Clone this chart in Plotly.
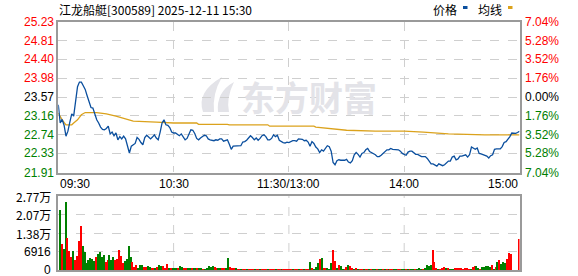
import plotly.graph_objects as go

# ---------------- data ----------------
title_text = "江龙船艇[300589] 2025-12-11 15:30"
prev_close = 23.57

time_ticks = [0, 60, 120, 180, 240]
time_labels = ["09:30", "10:30", "11:30/13:00", "14:00", "15:00"]

price_ticks = [25.23, 24.81, 24.40, 23.98, 23.57, 23.16, 22.74, 22.33, 21.91]
pct_labels = ["7.04%", "5.28%", "3.52%", "1.76%", "0.00%", "1.76%", "3.52%", "5.28%", "7.04%"]

vol_ticks = [0, 6916, 13832, 20748, 27664]
vol_labels = ["0", "6916", "1.38万", "2.07万", "2.77万"]

price = [
    23.40, 23.00, 23.08, 22.95, 22.71, 22.82, 23.02, 23.20, 23.15, 23.55,
    23.80, 23.90, 23.90, 23.82, 23.74, 23.60, 23.46, 23.34, 23.33, 23.18,
    23.07, 23.00, 22.91, 22.86, 22.85, 22.88, 22.93, 22.76, 22.80, 22.72,
    22.78, 22.63, 22.70, 22.65, 22.71, 22.65, 22.47, 22.34, 22.49, 22.52,
    22.55, 22.68, 22.64, 22.57, 22.52, 22.68, 22.73, 22.69, 22.65, 22.69,
    22.74, 22.67, 22.63, 22.80, 23.00, 23.07, 22.96, 22.95, 22.90, 22.80,
    22.78, 22.78, 22.74, 22.72, 22.76, 22.68, 22.63, 22.66, 22.74, 22.85,
    22.84, 22.77, 22.66, 22.63, 22.67, 22.71, 22.73, 22.72, 22.65, 22.63,
    22.62, 22.61, 22.63, 22.62, 22.65, 22.65, 22.60, 22.61, 22.63, 22.53,
    22.42, 22.49, 22.49, 22.49, 22.49, 22.50, 22.58, 22.59, 22.62, 22.66,
    22.72, 22.68, 22.63, 22.67, 22.62, 22.66, 22.72, 22.74, 22.70, 22.63,
    22.63, 22.66, 22.74, 22.70, 22.73, 22.62, 22.59, 22.57, 22.56, 22.58,
    22.57, 22.60, 22.61, 22.61, 22.60, 22.65, 22.64, 22.64, 22.61, 22.62,
    22.58, 22.49, 22.59, 22.55, 22.47, 22.43, 22.35, 22.41, 22.38, 22.43,
    22.50, 22.48, 22.38, 22.13, 22.08, 22.17, 22.19, 22.18, 22.18, 22.18,
    22.20, 22.14, 22.12, 22.17, 22.30, 22.35, 22.31, 22.25, 22.33, 22.35,
    22.41, 22.44, 22.37, 22.35, 22.33, 22.30, 22.26, 22.26, 22.29, 22.33,
    22.38, 22.41, 22.41, 22.44, 22.42, 22.42, 22.41, 22.41, 22.38, 22.33,
    22.31, 22.29, 22.36, 22.38, 22.38, 22.34, 22.31, 22.31, 22.29, 22.26,
    22.26, 22.26, 22.22, 22.17, 22.10, 22.10, 22.07, 22.05, 22.10, 22.08,
    22.06, 22.08, 22.12, 22.16, 22.16, 22.25, 22.27, 22.19, 22.21, 22.27,
    22.27, 22.28, 22.30, 22.25, 22.30, 22.47, 22.45, 22.42, 22.45, 22.33,
    22.32, 22.30, 22.28, 22.27, 22.23, 22.28, 22.30, 22.42, 22.43, 22.43,
    22.43, 22.48, 22.57, 22.59, 22.64, 22.70, 22.78, 22.77, 22.77, 22.79,
    22.82,
]

avg_minutes = [0, 2, 4, 7, 8, 10, 12, 14, 20, 25, 30, 35, 39, 51, 60, 72, 73, 88, 89,
               109, 110, 120, 133, 134, 140, 144, 150, 165, 180, 190, 195, 203, 222, 240]
avg_price = [23.22, 23.07, 22.96, 22.96, 23.00, 23.07, 23.18, 23.23, 23.23, 23.20,
             23.15, 23.09, 23.04, 23.02, 23.00, 23.00, 22.97, 22.97, 22.96, 22.96,
             22.93, 22.93, 22.93, 22.91, 22.88, 22.87, 22.84, 22.82, 22.82, 22.80,
             22.78, 22.76, 22.74, 22.74]

volume = [
    22400, 9700, 7850, 25400, 11850, 7200, 4750, 7100, 3740, 5240,
    10850, 16460, 8980, 6850, 2730, 3740, 4490, 4110, 3370, 4750,
    5980, 6850, 4750, 5500, 3100, 3740, 5500, 3740, 4750, 3740,
    4110, 7480, 5240, 2730, 3370, 4110, 8980, 4990, 3100, 1250,
    1870, 620, 1870, 1870, 1250, 1000, 1500, 1000, 620, 620,
    620, 1250, 1870, 1500, 1500, 620, 2240, 620, 400, 400,
    620, 400, 750, 1500, 1250, 750, 400, 400, 400, 400,
    620, 400, 400, 400, 400, 300, 300, 620, 1500, 1000,
    1500, 1000, 400, 400, 400, 400, 400, 750, 4370, 1000,
    400, 400, 400, 300, 300, 300, 300, 300, 300, 300,
    300, 300, 300, 300, 300, 300, 300, 300, 300, 300,
    300, 300, 300, 300, 300, 300, 300, 300, 300, 370,
    370, 370, 370, 370, 370, 370, 370, 370, 370, 370,
    370, 2990, 870, 370, 1000, 2620, 4110, 4490, 620, 870,
    870, 370, 2740, 7480, 3490, 870, 1870, 1500, 370, 370,
    1000, 1870, 1500, 620, 370, 750, 370, 370, 370, 370,
    370, 370, 370, 370, 370, 370, 370, 370, 370, 370,
    370, 370, 370, 370, 370, 370, 370, 370, 370, 370,
    370, 370, 370, 370, 370, 370, 370, 370, 620, 370,
    370, 870, 1870, 1500, 1870, 7480, 3100, 870, 370, 370,
    620, 1000, 620, 870, 370, 370, 370, 620, 870, 870,
    620, 370, 870, 870, 370, 370, 1000, 1500, 1500, 870,
    370, 1000, 1250, 1500, 1600, 1250, 1870, 370, 1000, 3000,
    3740, 2240, 3100, 2740, 4110, 6360, 5980, 0, 0, 0,
    11600,
]

vol_dir = list(
    "GRGGRRRGRR" "RRGGGGGGGR" "GGGGRRGGGR" "RRRRGGGGRR"
    "RGGGRRGGRR" "GRGGRRRGRG" "GGRGGRRGGR" "GGRGGRGGGG"
    "GRRGGRRGGR" "RRGRRGRRGR" "RRGRRGRRRG" "RRRGRRGRRR"
    "RRGRRGRRGR" "RGRGGGRGRR" "GGGRRGRGGR" "RGRRGRGRRG"
    "RRGRGGRGGR" "GRGRRGGRRG" "GRGRGGRGGG" "RGGGGRRRGR"
    "RRGRGGGRRR" "RRRRRGRRGG" "RGGGGGRGRG" "RGGGRRRRRR"
    "R"
)

minutes = list(range(len(price)))

# ---------------- geometry helpers ----------------
W, H = 578, 276
X0, X1 = 58.3, 519.5
def px(x):
    return x / W
def py(y):
    return 1 - y / H

RED = "#ff0000"
GREEN = "#008000"
BLACK = "#000000"
GRID = "#cfcfcf"
BORDER = "#9a9a9a"
FONT = "Liberation Sans, Arial, sans-serif"
CJK = "Noto Sans CJK SC, sans-serif"

fig = go.Figure()

fig.add_trace(go.Scatter(x=avg_minutes, y=avg_price, mode="lines",
                         line=dict(color="#dba21c", width=1.3),
                         xaxis="x", yaxis="y", hoverinfo="skip"))
fig.add_trace(go.Scatter(x=minutes, y=price, mode="lines",
                         line=dict(color="#0b4f9e", width=1.3),
                         xaxis="x", yaxis="y", hoverinfo="skip"))

bar_colors = [RED if d == "R" else GREEN for d in vol_dir]
fig.add_trace(go.Bar(x=minutes, y=volume, marker=dict(color=bar_colors, line=dict(width=0)),
                     width=0.65, xaxis="x2", yaxis="y2", hoverinfo="skip"))

axis_common = dict(showline=True, mirror=True, linecolor=BORDER, linewidth=1.5,
                   zeroline=False, showticklabels=False, ticks="",
                   gridcolor=GRID, griddash="dash", gridwidth=1)

fig.update_layout(
    width=W, height=H,
    margin=dict(l=0, r=0, t=0, b=0),
    paper_bgcolor="white", plot_bgcolor="white",
    showlegend=False,
    bargap=0,
    xaxis=dict(domain=[px(X0), px(X1)], range=[0, 240], tickvals=[60, 120, 180],
               showgrid=True, anchor="y", **axis_common),
    yaxis=dict(domain=[py(172.5), py(21.7)], range=[21.91, 25.23], tickvals=price_ticks,
               showgrid=True, anchor="x", **axis_common),
    xaxis2=dict(domain=[px(X0), px(X1)], range=[-1, 240.3], showgrid=False,
                anchor="y2", **axis_common),
    yaxis2=dict(domain=[py(270), py(196)], range=[0, 27664], tickvals=vol_ticks,
                showgrid=True, anchor="x2", **axis_common),
)

shapes = []
# vertical grid lines in volume pane aligned with price axis
for t in time_ticks[1:-1]:
    shapes.append(dict(type="line", xref="x", x0=t, x1=t, yref="y2 domain", y0=0, y1=1,
                       line=dict(color=GRID, width=1, dash="dash"), layer="below"))

# watermark leaf logo (decoration)
def P(x, y):
    return f"{px(x):.5f},{py(y):.5f}"
leaf = ("M " + P(203, 112) + " Q " + P(196, 92) + " " + P(222, 77) +
        " Q " + P(212, 94) + " " + P(214, 112) + " Z")
leaf2 = ("M " + P(218, 112) + " Q " + P(216, 92) + " " + P(234, 82) +
         " Q " + P(226, 98) + " " + P(229, 112) + " Z")
for pth in (leaf, leaf2):
    shapes.append(dict(type="path", xref="paper", yref="paper", path=pth,
                       fillcolor="#e3e3e8", line=dict(width=0), layer="below"))
fig.update_layout(shapes=shapes)

ann = []
# watermark text
ann.append(dict(text="<b>东方财富</b>", x=px(309), y=py(96), xref="paper", yref="paper",
                showarrow=False, font=dict(family=CJK, size=34, color="#e3e3e8"),
                xanchor="center", yanchor="middle"))
# title
ann.append(dict(text=title_text, x=px(57), y=py(9.5), xref="paper", yref="paper",
                showarrow=False, font=dict(family=CJK, size=12, color=BLACK),
                xanchor="left", yanchor="middle"))
# legend
ann.append(dict(text="价格", x=px(431), y=py(9.5), xref="paper", yref="paper", showarrow=False,
                font=dict(family=CJK, size=12, color=BLACK), xanchor="left", yanchor="middle"))
ann.append(dict(text="均线", x=px(476), y=py(9.5), xref="paper", yref="paper", showarrow=False,
                font=dict(family=CJK, size=12, color=BLACK), xanchor="left", yanchor="middle"))
shapes2 = list(shapes)
shapes2.append(dict(type="rect", xref="paper", yref="paper", x0=px(463), x1=px(467.5),
                    y0=py(9), y1=py(6), fillcolor="#0b4f9e", line=dict(width=0)))
shapes2.append(dict(type="rect", xref="paper", yref="paper", x0=px(508), x1=px(512.5),
                    y0=py(9), y1=py(6), fillcolor="#dba21c", line=dict(width=0)))
fig.update_layout(shapes=shapes2)

# price tick labels
for v, pl in zip(price_ticks, pct_labels):
    if v > prev_close + 1e-9:
        c = RED
    elif v < prev_close - 1e-9:
        c = GREEN
    else:
        c = BLACK
    ann.append(dict(text=f"{v:.2f}", x=px(55.5), y=v, xref="paper", yref="y", showarrow=False,
                    font=dict(family=FONT, size=12, color=c), xanchor="right", yanchor="middle"))
    ann.append(dict(text=pl, x=px(523), y=v, xref="paper", yref="y", showarrow=False,
                    font=dict(family=FONT, size=12, color=c), xanchor="left", yanchor="middle"))

# volume tick labels
for v, lab in zip(vol_ticks, vol_labels):
    ann.append(dict(text=lab, x=px(52.5), y=v, xref="paper", yref="y2", showarrow=False,
                    font=dict(family=CJK if "万" in lab else FONT, size=12, color=BLACK),
                    xanchor="right", yanchor="middle"))

# time labels
for t, lab in zip(time_ticks, time_labels):
    if t == 0:
        xa, xx = "left", t
    elif t == 240:
        xa, xx = "right", t
    else:
        xa, xx = "center", t
    ann.append(dict(text=lab, x=xx, y=py(184), xref="x", yref="paper", showarrow=False,
                    font=dict(family=FONT, size=12, color=BLACK), xanchor=xa, yanchor="middle"))

fig.update_layout(annotations=ann)

fig.write_html("out.html")
